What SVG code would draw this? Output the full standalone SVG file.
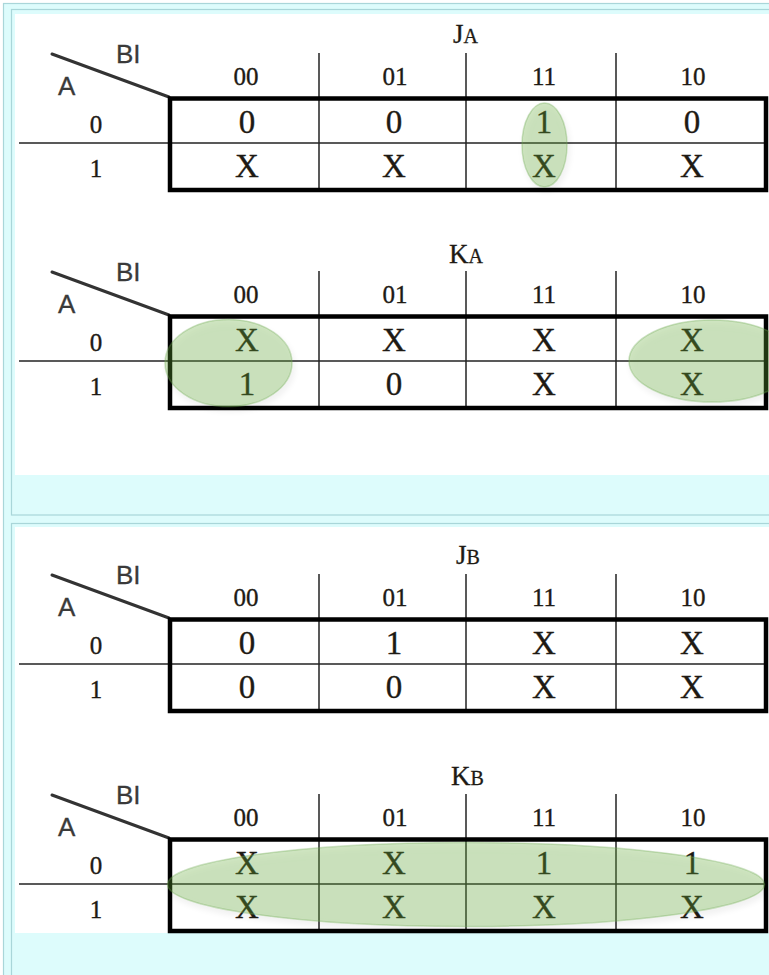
<svg xmlns="http://www.w3.org/2000/svg" width="769" height="975" viewBox="0 0 769 975">
<style>
.frame{fill:#ddfcfc;stroke:#a9d6d9;stroke-width:1.2}
.paper{fill:#ffffff}
.diag{stroke:#333;stroke-width:3;stroke-linecap:round}
.thin{stroke:#222;stroke-width:1.5}
.box{fill:none;stroke:#000;stroke-width:4.5}
.sans{font-family:"Liberation Sans",Arial,sans-serif;font-size:26px;fill:#3a3a3a;stroke:#3a3a3a;stroke-width:0.3}
.hdr{font-family:"Liberation Serif","Times New Roman",serif;font-size:25px;fill:#1e1a14;stroke:#1e1a14;stroke-width:0.35;text-anchor:middle}
.val{font-family:"Liberation Serif","Times New Roman",serif;font-size:33px;fill:#1e1a14;stroke:#1e1a14;stroke-width:0.35;text-anchor:middle}
.ttl{font-family:"Liberation Serif","Times New Roman",serif;fill:#1e1a14;stroke:#1e1a14;stroke-width:0.3}
.grp{fill:rgb(104,172,60);fill-opacity:0.3;stroke:rgb(110,170,80);stroke-opacity:0.35;stroke-width:1.5;filter:url(#sh)}
</style>
<defs>
<filter id="sh" x="-20%" y="-30%" width="140%" height="160%">
<feGaussianBlur in="SourceAlpha" stdDeviation="3"/>
<feOffset dx="2" dy="4" result="b"/>
<feComponentTransfer><feFuncA type="linear" slope="0.18"/></feComponentTransfer>
<feMerge><feMergeNode/><feMergeNode in="SourceGraphic"/></feMerge>
</filter>
</defs>
<rect x="0" y="0" width="769" height="975" fill="#ffffff"/>
<rect class="frame" x="3.5" y="3.5" width="780" height="990"/>
<rect class="frame" x="11.5" y="9.5" width="780" height="505.5"/>
<rect class="paper" x="15" y="14" width="760" height="461"/>
<rect class="frame" x="11.5" y="523.5" width="780" height="470"/>
<rect class="paper" x="15" y="527" width="760" height="406"/>

<g id="map-JA">
<line class="diag" x1="52" y1="54" x2="169" y2="97"/>
<text class="sans" x="116" y="63">BI</text>
<text class="sans" x="58" y="95">A</text>
<line class="thin" x1="319" y1="53" x2="319" y2="188"/>
<line class="thin" x1="466" y1="53" x2="466" y2="188"/>
<line class="thin" x1="616" y1="53" x2="616" y2="188"/>
<line class="thin" x1="19" y1="143" x2="764" y2="143"/>
<rect class="box" x="170" y="98.5" width="596" height="91.5"/>
<text class="hdr" x="246" y="85">00</text>
<text class="hdr" x="395" y="85">01</text>
<text class="hdr" x="544" y="85">11</text>
<text class="hdr" x="693" y="85">10</text>
<text class="hdr" x="96" y="133">0</text>
<text class="hdr" x="96" y="177">1</text>
<text class="ttl" x="453" y="43"><tspan font-size="27">J</tspan><tspan font-size="20">A</tspan></text>
<text class="val" x="247" y="133">0</text>
<text class="val" x="394" y="133">0</text>
<text class="val" x="544" y="133">1</text>
<text class="val" x="692" y="133">0</text>
<text class="val" x="247" y="177">X</text>
<text class="val" x="394" y="177">X</text>
<text class="val" x="544" y="177">X</text>
<text class="val" x="692" y="177">X</text>
<ellipse class="grp" cx="544.5" cy="145" rx="22.5" ry="42"/>
</g>

<g id="map-KA" transform="translate(0,218)">
<line class="diag" x1="52" y1="54" x2="169" y2="97"/>
<text class="sans" x="116" y="63">BI</text>
<text class="sans" x="58" y="95">A</text>
<line class="thin" x1="319" y1="53" x2="319" y2="188"/>
<line class="thin" x1="466" y1="53" x2="466" y2="188"/>
<line class="thin" x1="616" y1="53" x2="616" y2="188"/>
<line class="thin" x1="19" y1="143" x2="764" y2="143"/>
<rect class="box" x="170" y="98.5" width="596" height="91.5"/>
<text class="hdr" x="246" y="85">00</text>
<text class="hdr" x="395" y="85">01</text>
<text class="hdr" x="544" y="85">11</text>
<text class="hdr" x="693" y="85">10</text>
<text class="hdr" x="96" y="133">0</text>
<text class="hdr" x="96" y="177">1</text>
<text class="ttl" x="449" y="45"><tspan font-size="27">K</tspan><tspan font-size="20">A</tspan></text>
<text class="val" x="247" y="133">X</text>
<text class="val" x="394" y="133">X</text>
<text class="val" x="544" y="133">X</text>
<text class="val" x="692" y="133">X</text>
<text class="val" x="247" y="177">1</text>
<text class="val" x="394" y="177">0</text>
<text class="val" x="544" y="177">X</text>
<text class="val" x="692" y="177">X</text>
<ellipse class="grp" cx="228.5" cy="145" rx="63.5" ry="43.5"/>
<ellipse class="grp" cx="712" cy="143" rx="83" ry="41"/>
</g>

<g id="map-JB" transform="translate(0,521)">
<line class="diag" x1="52" y1="54" x2="169" y2="97"/>
<text class="sans" x="116" y="63">BI</text>
<text class="sans" x="58" y="95">A</text>
<line class="thin" x1="319" y1="53" x2="319" y2="188"/>
<line class="thin" x1="466" y1="53" x2="466" y2="188"/>
<line class="thin" x1="616" y1="53" x2="616" y2="188"/>
<line class="thin" x1="19" y1="143" x2="764" y2="143"/>
<rect class="box" x="170" y="98.5" width="596" height="91.5"/>
<text class="hdr" x="246" y="85">00</text>
<text class="hdr" x="395" y="85">01</text>
<text class="hdr" x="544" y="85">11</text>
<text class="hdr" x="693" y="85">10</text>
<text class="hdr" x="96" y="133">0</text>
<text class="hdr" x="96" y="177">1</text>
<text class="ttl" x="456" y="43"><tspan font-size="27">J</tspan><tspan font-size="20">B</tspan></text>
<text class="val" x="247" y="133">0</text>
<text class="val" x="394" y="133">1</text>
<text class="val" x="544" y="133">X</text>
<text class="val" x="692" y="133">X</text>
<text class="val" x="247" y="177">0</text>
<text class="val" x="394" y="177">0</text>
<text class="val" x="544" y="177">X</text>
<text class="val" x="692" y="177">X</text>
</g>

<g id="map-KB" transform="translate(0,741)">
<line class="diag" x1="52" y1="54" x2="169" y2="97"/>
<text class="sans" x="116" y="63">BI</text>
<text class="sans" x="58" y="95">A</text>
<line class="thin" x1="319" y1="53" x2="319" y2="188"/>
<line class="thin" x1="466" y1="53" x2="466" y2="188"/>
<line class="thin" x1="616" y1="53" x2="616" y2="188"/>
<line class="thin" x1="19" y1="143" x2="764" y2="143"/>
<rect class="box" x="170" y="98.5" width="596" height="91.5"/>
<text class="hdr" x="246" y="85">00</text>
<text class="hdr" x="395" y="85">01</text>
<text class="hdr" x="544" y="85">11</text>
<text class="hdr" x="693" y="85">10</text>
<text class="hdr" x="96" y="133">0</text>
<text class="hdr" x="96" y="177">1</text>
<text class="ttl" x="451" y="44"><tspan font-size="27">K</tspan><tspan font-size="20">B</tspan></text>
<text class="val" x="247" y="133">X</text>
<text class="val" x="394" y="133">X</text>
<text class="val" x="544" y="133">1</text>
<text class="val" x="692" y="133">1</text>
<text class="val" x="247" y="177">X</text>
<text class="val" x="394" y="177">X</text>
<text class="val" x="544" y="177">X</text>
<text class="val" x="692" y="177">X</text>
<ellipse class="grp" cx="466" cy="143.5" rx="298.5" ry="42"/>
</g>
</svg>
